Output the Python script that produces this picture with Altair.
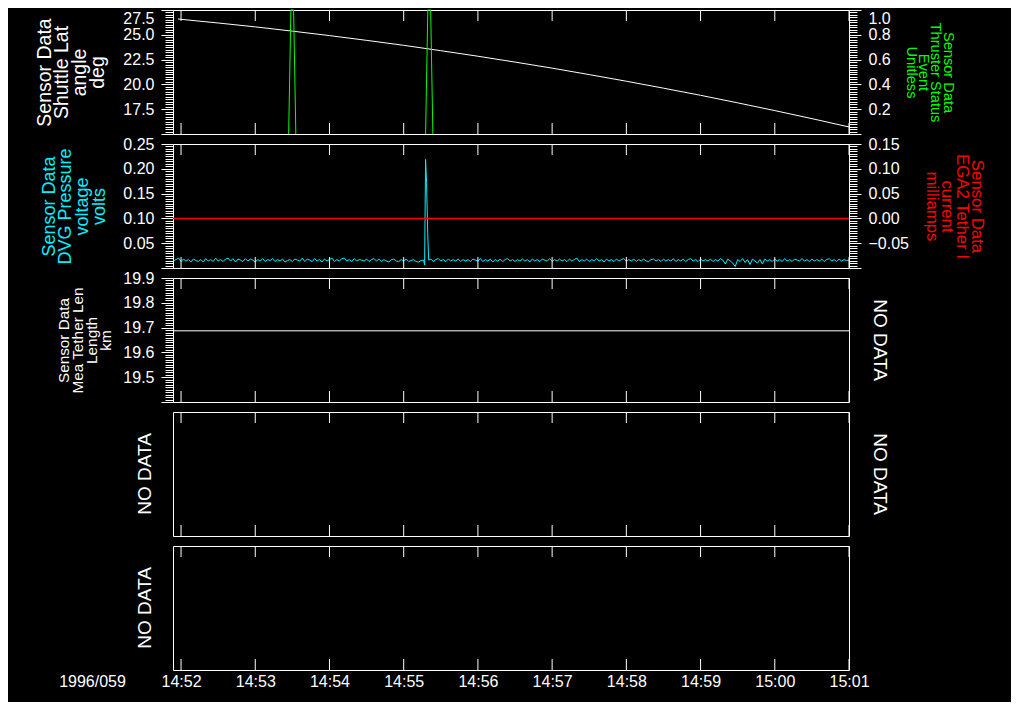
import altair as alt
import pandas as pd

FONT = "Liberation Sans"
DAY = "1996-02-28"
DAY_LABEL = "1996/059"

# ---------------- data ----------------
TIME_TICKS = ["14:52:00", "14:53:00", "14:54:00", "14:55:00", "14:56:00",
              "14:57:00", "14:58:00", "14:59:00", "15:00:00", "15:01:00"]

LAT_TIMES = ["14:51:57.5", "14:52:00", "14:52:30", "14:53:00", "14:53:30", "14:54:00",
             "14:54:30", "14:55:00", "14:55:30", "14:56:00", "14:56:30", "14:57:00",
             "14:57:30", "14:58:00", "14:58:30", "14:59:00", "14:59:30", "15:00:00",
             "15:00:30", "15:01:00"]
LAT_VALUES = [26.60, 26.56, 26.19, 25.80, 25.37, 24.92, 24.44, 23.94, 23.40, 22.84,
              22.25, 21.64, 20.99, 20.32, 19.62, 18.90, 18.14, 17.36, 16.55, 15.71]

THR_EVENT = [1, 1, 1, 1, 2, 2, 2, 2]
THR_TIMES = ["14:53:27.0", "14:53:28.8", "14:53:31.0", "14:53:32.8",
             "14:55:17.7", "14:55:19.5", "14:55:21.8", "14:55:23.6"]
THR_VALUES = [0, 1, 1, 0, 0, 1, 1, 0]

DVG_START = "14:51:54"
DVG_STEP_S = 2
DVG_VALUES = [
    0.015, 0.017, 0.020, 0.013, 0.018, 0.014, 0.017, 0.012, 0.018, 0.015, 0.013, 0.017, 0.012, 0.019, 0.014, 0.017, 0.013, 0.020, 0.014, 0.017,
    0.013, 0.018, 0.020, 0.014, 0.019, 0.012, 0.018, 0.016, 0.013, 0.019, 0.014, 0.018, 0.016, 0.012, 0.017, 0.014, 0.019, 0.013, 0.017, 0.015,
    0.019, 0.013, 0.017, 0.014, 0.018, 0.012, 0.015, 0.017, 0.013, 0.018, 0.016, 0.014, 0.020, 0.013, 0.018, 0.016, 0.013, 0.019, 0.014, 0.017,
    0.012, 0.018, 0.014, 0.017, 0.020, 0.013, 0.017, 0.014, 0.019, 0.020, 0.014, 0.017, 0.013, 0.019, 0.014, 0.017, 0.016, 0.014, 0.018, 0.013,
    0.017, 0.019, 0.014, 0.018, 0.013, 0.017, 0.014, 0.012, 0.017, 0.018, 0.014, 0.013, 0.017, 0.014, 0.018, 0.013, 0.015, 0.017, 0.013, 0.012,
    0.015, 0.016, 0.016, 0.016, 0.018, 0.013, 0.017, 0.019, 0.014, 0.017, 0.013, 0.018, 0.014, 0.017, 0.014, 0.018, 0.013, 0.017, 0.014, 0.017,
    0.013, 0.018, 0.016, 0.014, 0.019, 0.013, 0.017, 0.014, 0.018, 0.012, 0.017, 0.014, 0.018, 0.013, 0.017, 0.019, 0.014, 0.017, 0.013, 0.017,
    0.014, 0.018, 0.014, 0.017, 0.012, 0.018, 0.014, 0.017, 0.013, 0.018, 0.016, 0.014, 0.019, 0.013, 0.017, 0.014, 0.018, 0.014, 0.017, 0.013,
    0.018, 0.014, 0.017, 0.020, 0.013, 0.017, 0.014, 0.018, 0.013, 0.017, 0.014, 0.019, 0.014, 0.017, 0.012, 0.018, 0.014, 0.017, 0.013, 0.018,
    0.014, 0.017, 0.019, 0.013, 0.017, 0.014, 0.018, 0.013, 0.017, 0.014, 0.018, 0.014, 0.013, 0.017, 0.018, 0.014, 0.017, 0.013, 0.018, 0.014,
    0.017, 0.014, 0.019, 0.013, 0.017, 0.014, 0.018, 0.013, 0.017, 0.019, 0.014, 0.017, 0.013, 0.018, 0.014, 0.017, 0.014, 0.018, 0.013, 0.017,
    0.014, 0.019, 0.016, 0.008, 0.018, 0.014, 0.010, 0.003, 0.017, 0.013, 0.019, 0.011, 0.017, 0.007, 0.018, 0.014, 0.010, 0.017, 0.008, 0.018,
    0.014, 0.017, 0.013, 0.018, 0.014, 0.017, 0.013, 0.019, 0.014, 0.017, 0.013, 0.018, 0.016, 0.014, 0.019, 0.014, 0.017, 0.013, 0.018, 0.014,
    0.017, 0.014, 0.018, 0.013, 0.017, 0.019, 0.014, 0.017, 0.013, 0.018, 0.014, 0.017, 0.015, 0.016,
]
DVG_SPIKE_TIMES = ["14:55:16.3", "14:55:16.9", "14:55:17.7", "14:55:18.5", "14:55:19.4", "14:55:20.2"]
DVG_SPIKE_VALUES = [0.014, 0.006, 0.219, 0.172, 0.072, 0.016]

EGA_TIMES = ["14:51:53.5", "15:01:00"]
EGA_VALUES = [0.0, 0.0]

LEN_TIMES = ["14:51:53.5", "15:01:00"]
LEN_VALUES = [19.687, 19.687]

W, H = 676, 124


# ---------------- helpers ----------------
def iso(t):
    return f"{t:%Y-%m-%dT%H:%M:%S}.{t.microsecond // 1000:03d}Z"


def ts(hms):
    return iso(pd.Timestamp(f"{DAY} {hms}"))


def dt(h, m, s=0, ms=0):
    return alt.DateTime(year=1996, month=2, date=28, hours=h, minutes=m,
                        seconds=s, milliseconds=ms, utc=True)


X_DOMAIN = [dt(14, 51, 53, 500), dt(15, 1, 0)]
X_TICK_VALUES = [dt(int(s[:2]), int(s[3:5])) for s in TIME_TICKS]


def xenc(axis=None):
    return alt.X("t:T", scale=alt.Scale(type="utc", domain=X_DOMAIN), axis=axis)


def ticks_range(lo, step, n, nd):
    return [round(lo + step * k, nd) for k in range(n)]


def yaxis(orient, values, step, lo, fmt, title, color, tsize, lh, tx, flush=False):
    test = f"abs(datum.value/{step} - round(datum.value/{step})) < 0.001"
    return alt.Axis(
        orient=orient, values=values, domain=False, grid=False,
        tickColor="white", tickWidth=1,
        tickSize={"condition": {"test": test, "value": 12}, "value": 8},
        labelExpr=f"({test}) && datum.value > {lo + step / 100} ? format(datum.value, '{fmt}') : ''",
        labelFontSize={"condition": {"test": test, "value": 16}, "value": 1},
        labelColor="white", labelFont=FONT, labelPadding=7,
        labelOverlap=False, labelFlush=flush,
        title=title, titleColor=color, titleFont=FONT, titleFontSize=tsize,
        titleFontWeight="normal", titleLineHeight=lh,
        titleAngle=270 if orient == "left" else 90,
        titleAlign="center", titleBaseline="middle", titleX=tx, titleY=H / 2,
    )


tick_df = pd.DataFrame({"t": [ts(s) for s in TIME_TICKS]})


def tick_layers(bottom_axis=None):
    top = alt.Chart(tick_df).mark_rule(color="white", strokeWidth=1).encode(
        x=xenc(bottom_axis), y=alt.value(0), y2=alt.value(11))
    bot = alt.Chart(tick_df).mark_rule(color="white", strokeWidth=1).encode(
        x=xenc(bottom_axis), y=alt.value(H - 11), y2=alt.value(H))
    return [bot, top]


def no_data(xpos, angle):
    return alt.Chart(pd.DataFrame({"label": ["NO DATA"]})).mark_text(
        angle=angle, color="white", font=FONT, fontSize=19,
        align="center", baseline="middle").encode(
        x=alt.value(xpos), y=alt.value(H / 2), text="label:N")


# ---------------- panel 1 ----------------
lat_df = pd.DataFrame({"t": [ts(s) for s in LAT_TIMES], "v": LAT_VALUES})
thr_df = pd.DataFrame({"t": [ts(s) for s in THR_TIMES], "v": THR_VALUES, "e": THR_EVENT})

lat = alt.Chart(lat_df).mark_line(color="white", strokeWidth=1).encode(
    x=xenc(),
    y=alt.Y("v:Q", scale=alt.Scale(domain=[15, 27.5], nice=False, zero=False),
            axis=yaxis("left", ticks_range(15, 0.25, 51, 2), 2.5, 15, ".1f",
                       ["Sensor Data", "Shuttle Lat", "angle", "deg"],
                       "white", 19.5, 17.8, -129, flush=True)))
thr = alt.Chart(thr_df).mark_line(color="#00ff00", strokeWidth=1).encode(
    x=xenc(),
    y=alt.Y("v:Q", scale=alt.Scale(domain=[0, 1], nice=False),
            axis=yaxis("right", ticks_range(0, 0.02, 51, 2), 0.2, 0, ".1f",
                       ["Sensor Data", "Thruster Status", "Event", "Unitless"],
                       "#00ff00", 14.6, 12.3, 98, flush=True)),
    detail="e:N")
spacer = alt.Chart(pd.DataFrame({"a": [0]})).mark_rule(color="black").encode(
    x=alt.value(-164), x2=alt.value(-163), y=alt.value(H / 2))

p1 = alt.layer(lat, thr, spacer, *tick_layers()).resolve_scale(y="independent").properties(width=W, height=H)

# ---------------- panel 2 ----------------
dvg_t = pd.Timestamp(f"{DAY} {DVG_START}") + pd.to_timedelta(
    [DVG_STEP_S * i for i in range(len(DVG_VALUES))], unit="s")
dvg_noise = pd.DataFrame({"ts": dvg_t, "v": DVG_VALUES})
sp_t = pd.to_datetime([f"{DAY} {s}" for s in DVG_SPIKE_TIMES])
dvg_noise = dvg_noise[(dvg_noise.ts < sp_t.min()) | (dvg_noise.ts > sp_t.max())]
dvg_all = pd.concat([dvg_noise, pd.DataFrame({"ts": sp_t, "v": DVG_SPIKE_VALUES})]).sort_values("ts")
dvg_df = pd.DataFrame({"t": [iso(x) for x in dvg_all.ts], "v": dvg_all.v.values})
ega_df = pd.DataFrame({"t": [ts(s) for s in EGA_TIMES], "v": EGA_VALUES})

dvg = alt.Chart(dvg_df).mark_line(color="#00f0ff", strokeWidth=1).encode(
    x=xenc(),
    y=alt.Y("v:Q", scale=alt.Scale(domain=[0, 0.25], nice=False),
            axis=yaxis("left", ticks_range(0, 0.005, 51, 3), 0.05, 0, ".2f",
                       ["Sensor Data", "DVG Pressure", "voltage", "volts"],
                       "#00f0ff", 18, 16.7, -124)))
ega = alt.Chart(ega_df).mark_line(color="#ff0000", strokeWidth=1.5).encode(
    x=xenc(),
    y=alt.Y("v:Q", scale=alt.Scale(domain=[-0.1, 0.15], nice=False, zero=False),
            axis=yaxis("right", ticks_range(-0.1, 0.005, 51, 3), 0.05, -0.1, ".2f",
                       ["Sensor Data", "EGA2 Tether I", "current", "milliamps"],
                       "#ff0000", 16.8, 15, 127)))
p2 = alt.layer(dvg, ega, *tick_layers()).resolve_scale(y="independent").properties(width=W, height=H)

# ---------------- panel 3 ----------------
len_df = pd.DataFrame({"t": [ts(s) for s in LEN_TIMES], "v": LEN_VALUES})
tlen = alt.Chart(len_df).mark_line(color="white", strokeWidth=1).encode(
    x=xenc(),
    y=alt.Y("v:Q", scale=alt.Scale(domain=[19.4, 19.9], nice=False, zero=False),
            axis=yaxis("left", ticks_range(19.4, 0.01, 51, 2), 0.1, 19.4, ".1f",
                       ["Sensor Data", "Mea Tether Len", "Length", "km"],
                       "white", 15.3, 14.2, -110)))
p3 = alt.layer(tlen, *tick_layers(), no_data(707, 90)).properties(width=W, height=H)

# ---------------- panel 4 ----------------
p4 = alt.layer(*tick_layers(), no_data(-28, 270), no_data(707, 90)).properties(width=W, height=H)

# ---------------- panel 5 ----------------
x_axis = alt.Axis(orient="bottom", values=X_TICK_VALUES, domain=False, ticks=False, grid=False,
                  labelExpr="utcFormat(datum.value, '%H:%M')", labelColor="white",
                  labelFont=FONT, labelFontSize=16, labelPadding=3, labelFlush=False,
                  labelOverlap=False,
                  title=DAY_LABEL, titleColor="white", titleFont=FONT, titleFontSize=16,
                  titleFontWeight="normal", titleX=-81, titleY=11,
                  titleAlign="center", titleBaseline="middle", titleAngle=0)
p5 = alt.layer(*tick_layers(x_axis), no_data(-28, 270)).properties(width=W, height=H)

chart = alt.vconcat(p1, p2, p3, p4, p5, spacing=10, bounds="flush").properties(
    background="black", padding={"left": 0, "top": -1, "right": 26, "bottom": 12}
).configure_view(stroke="white", strokeWidth=1)

chart.save("out.html", embed_options={"renderer": "svg", "actions": False})
